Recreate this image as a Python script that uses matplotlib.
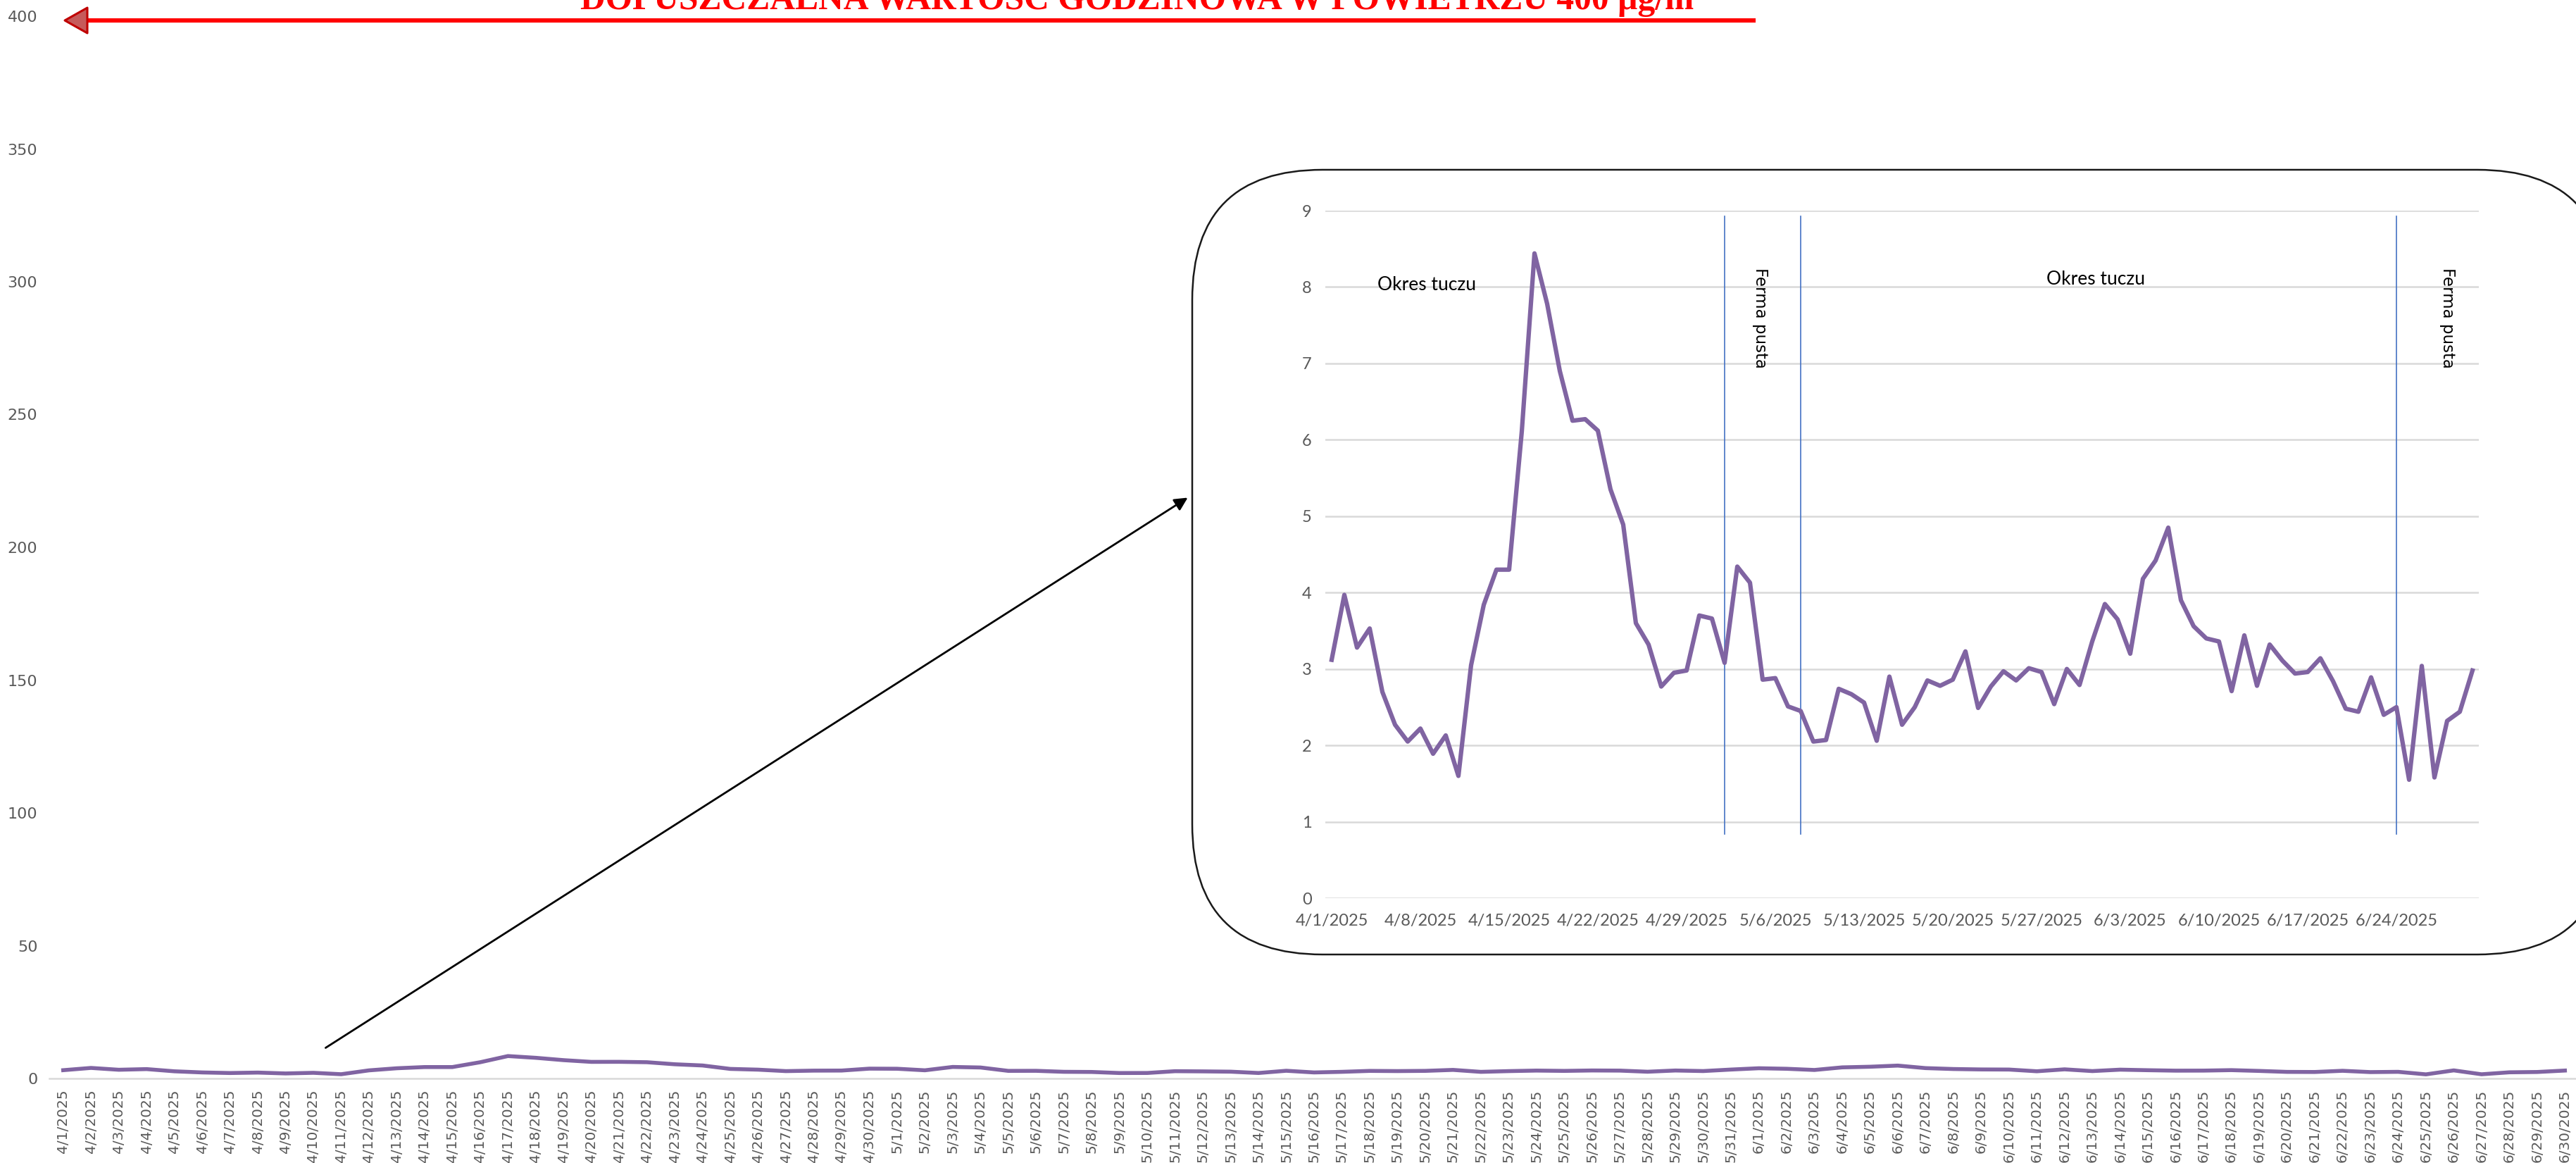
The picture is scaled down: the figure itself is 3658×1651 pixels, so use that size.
import matplotlib
matplotlib.use("Agg")
import matplotlib.pyplot as plt
from matplotlib.patches import FancyBboxPatch, Polygon
from matplotlib.lines import Line2D
from matplotlib.transforms import IdentityTransform
import pandas as pd

# daily values 4/1/2025 - 6/30/2025
dates = pd.date_range("2025-04-01", "2025-06-30", freq="D")
date_labels = [f"{d.month}/{d.day}/{d.year}" for d in dates]

values = [3.12, 3.97, 3.28, 3.53, 2.70, 2.27, 2.05, 2.22, 1.89, 2.13,
          1.60, 3.05, 3.84, 4.30, 4.30, 6.11, 8.44, 7.78, 6.90, 6.25,
          6.27, 6.12, 5.35, 4.89, 3.60, 3.32, 2.77, 2.95, 2.98, 3.70,
          3.66, 3.08, 4.34, 4.13, 2.86, 2.88, 2.51, 2.45, 2.05, 2.07,
          2.74, 2.67, 2.56, 2.06, 2.90, 2.27, 2.50, 2.85, 2.78, 2.86,
          3.23, 2.49, 2.77, 2.97, 2.85, 3.01, 2.96, 2.54, 3.00, 2.79,
          3.36, 3.85, 3.65, 3.20, 4.18, 4.42, 4.85, 3.90, 3.56, 3.40,
          3.36, 2.71, 3.44, 2.78, 3.32, 3.11, 2.94, 2.96, 3.14, 2.84,
          2.48, 2.44, 2.89, 2.40, 2.50, 1.55, 3.04, 1.58, 2.32, 2.44,
          2.98]

main_yticks = [0, 50, 100, 150, 200, 250, 300, 350, 400]
inset_yticks = [0, 1, 2, 3, 4, 5, 6, 7, 8, 9]
inset_xtick_idx = [0, 7, 14, 21, 28, 35, 42, 49, 56, 63, 70, 77, 84]

# period markers (index of day) and labels
empty_lines = [31, 37, 84]
period_labels = [("Okres tuczu", 7.5, 7.96), ("Okres tuczu", 60.3, 8.03)]
empty_labels = [("Ferma pusta", 33.8, 7.59), ("Ferma pusta", 88.0, 7.59)]

title = "DOPUSZCZALNA WARTOŚĆ GODZINOWA W POWIETRZU 400 µg/m³"

W, H = 3658, 1651
purple = "#8064A2"
grey_txt = "#595959"
grid_c = "#D9D9D9"

fig = plt.figure(figsize=(W / 100, H / 100), dpi=100)
x = list(range(len(values)))

# ---- main chart ----
ax = fig.add_axes([70 / W, 1 - 1531 / H, (3662 - 70) / W, 1508 / H])
ax.set_zorder(1)
ax.plot(x, values, color=purple, lw=4, solid_joinstyle="round")
ax.set_ylim(0, 400)
ax.set_xlim(-0.5, len(values) - 0.5)
ax.set_yticks(main_yticks)
ax.set_xticks(x)
ax.set_xticklabels(date_labels, rotation=90)
ax.tick_params(length=0, labelcolor=grey_txt)
ax.tick_params(axis="x", pad=11, labelsize=14.5)
ax.tick_params(axis="y", pad=12, labelsize=16)
for s in ["top", "right", "left"]:
    ax.spines[s].set_visible(False)
ax.spines["bottom"].set_color(grid_c)
ax.spines["bottom"].set_linewidth(1.8)
ax.patch.set_alpha(0)

# ---- rounded box behind the zoomed chart ----
box = FancyBboxPatch((1693, H - 1355), 3703 - 1693, 1355 - 241,
                     boxstyle="round,pad=0,rounding_size=185",
                     transform=IdentityTransform(), facecolor="white",
                     edgecolor="#1a1a1a", lw=1.8, zorder=2)
fig.add_artist(box)

# ---- zoomed chart ----
ax2 = fig.add_axes([1882 / W, 1 - 1275 / H, (3520 - 1882) / W, (1275 - 299) / H])
ax2.set_zorder(3)
ax2.patch.set_alpha(0)
ax2.plot(x, values, color=purple, lw=4.5, solid_joinstyle="round", zorder=3)
ax2.set_ylim(0, 9)
ax2.set_xlim(-0.5, len(values) - 0.5)
ax2.set_yticks(inset_yticks)
ax2.set_xticks(inset_xtick_idx)
ax2.set_xticklabels([date_labels[i] for i in inset_xtick_idx])
ax2.grid(axis="y", color=grid_c, lw=1.8)
ax2.set_axisbelow(True)
for s in ax2.spines.values():
    s.set_visible(False)
ax2.tick_params(length=0, labelcolor=grey_txt, labelsize=17)
ax2.tick_params(axis="x", pad=16)
ax2.tick_params(axis="y", pad=14)
for lab in ax2.get_xticklabels() + ax2.get_yticklabels():
    lab.set_family(["Lato", "DejaVu Sans"])

for i in empty_lines:
    ax2.plot([i, i], [0.84, 8.93], color="#4472C4", lw=1.2, zorder=2)
for txt, xi, yi in period_labels:
    ax2.text(xi, yi, txt, ha="center", va="baseline", fontsize=19,
             family=["Lato", "DejaVu Sans"], color="black")
for txt, xi, yi in empty_labels:
    ax2.text(xi, yi, txt, ha="center", va="center", rotation=-90,
             fontsize=16.5, color="black")

# ---- arrow from main line to the zoomed chart ----
fig.add_artist(matplotlib.patches.FancyArrowPatch(
    (460, H - 1489), (1689, H - 705), transform=IdentityTransform(),
    arrowstyle="-|>", mutation_scale=28, lw=2, color="black", zorder=4))

# ---- limit line with title ----
fig.add_artist(Line2D([124, 2490], [H - 29, H - 29], color="#FF0000", lw=4.4,
                      transform=IdentityTransform(), zorder=5))
fig.add_artist(Polygon([(124, H - 11), (124, H - 47), (92, H - 29)], closed=True,
                       transform=IdentityTransform(), facecolor="#C65A5A",
                       edgecolor="#C00000", lw=2.2, joinstyle="round", zorder=6))

t = fig.text((822 + 2421) / 2 / W, 1 - 13 / H, title, ha="center", va="baseline",
             color="#FF0000", fontweight="bold",
             family=["Liberation Serif", "DejaVu Serif"], fontsize=36)
fig.canvas.draw()
w = t.get_window_extent().width
t.set_fontsize(36 * (2421 - 822) / w)

fig.savefig("out.png", dpi=100)
